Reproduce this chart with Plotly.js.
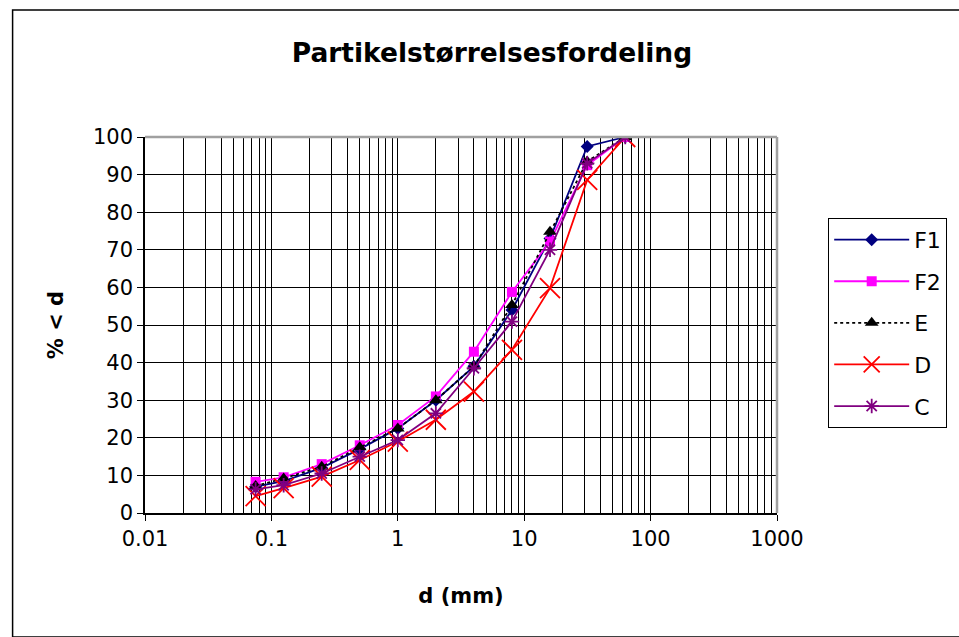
<!DOCTYPE html>
<html><head><meta charset="utf-8">
<script src="https://cdn.plot.ly/plotly-3.0.1.min.js"></script>
<style>body{margin:0;background:#fff}#chart{width:959px;height:637px}</style>
</head><body><div id="chart"></div>
<script>
const sizes = [0.075, 0.125, 0.25, 0.5, 1, 2, 4, 8, 16, 31.5, 63];
const F1 = [7, 8.5, 12, 17, 22.5, 30, 39, 54, 73, 97.5, 100];
const F2 = [8.3, 9.5, 13, 18, 23.4, 31, 42.9, 58.8, 72.2, 92.5, 100];
const E  = [7.2, 9.2, 12.3, 17.5, 22.5, 30, 39, 55.3, 74.8, 93.5, 100];
const D  = [4.5, 6.6, 9.7, 14.1, 19, 24.8, 32.3, 43.4, 59.8, 88.6, 100];
const C  = [6.3, 7.4, 10.5, 15, 19.4, 26.5, 38.5, 50.9, 70, 93, 100];
const names = ['F1', 'F2', 'E', 'D', 'C'];
const series = [F1, F2, E, D, C];
const colors = ['#000080', '#FF00FF', '#000000', '#FF0000', '#800080'];
const symbols = ['diamond', 'square', 'triangle-up', 'x-thin-open', 'asterisk-open'];
const msizes = [10, 10, 12, 20, 12];
const dashes = ['solid', 'solid', 'dot', 'solid', 'solid'];
const FONT = 'DejaVu Sans, Arial, sans-serif';

const traces = series.map((s, i) => ({
  x: sizes, y: s, name: names[i], type: 'scatter', mode: 'lines+markers',
  legendgroup: names[i],
  line: {color: colors[i], width: 1.8, dash: dashes[i]},
  marker: {symbol: symbols[i], size: msizes[i], color: colors[i], line: {color: colors[i], width: (i >= 3 ? 1.8 : 0)}}
}));

const layout = {
  width: 959, height: 637,
  margin: {l: 145, r: 182, t: 137, b: 124},
  paper_bgcolor: '#fff', plot_bgcolor: '#fff',
  font: {family: FONT, size: 21, color: '#000'},
  title: {text: '<b>Partikelstørrelsesfordeling</b>', x: 0.513, xanchor: 'center', y: 0.918, yanchor: 'middle',
          font: {size: 26.5, family: FONT, color: '#000'}},
  xaxis: {
    type: 'log', range: [-2, 3], dtick: 1,
    tickvals: [0.01, 0.1, 1, 10, 100, 1000], ticktext: ['0.01', '0.1', '1', '10', '100', '1000'],
    showgrid: true, gridcolor: '#000', gridwidth: 1,
    minor: {showgrid: true, gridcolor: '#000', gridwidth: 1, dtick: 'D1'},
    ticks: 'outside', ticklen: 6, tickcolor: '#000', tickwidth: 1,
    showline: true, linecolor: '#000', linewidth: 1.5, mirror: false,
    zeroline: false,
    title: {text: '<b>d (mm)</b>', standoff: 38, font: {size: 21}}
  },
  yaxis: {
    range: [0, 100], dtick: 10,
    showgrid: true, gridcolor: '#000', gridwidth: 1,
    ticks: 'outside', ticklen: 6, tickcolor: '#000', tickwidth: 1,
    showline: true, linecolor: '#000', linewidth: 1.5, mirror: false,
    zeroline: false,
    title: {text: '<b>% < d</b>', standoff: 24, font: {size: 21}}
  },
  legend: {
    x: 1.081, y: 0.785, xanchor: 'left', yanchor: 'top',
    bordercolor: '#000', borderwidth: 1, bgcolor: '#fff',
    font: {size: 22}, tracegroupgap: 10, traceorder: 'grouped',
    itemwidth: 75
  },
  shapes: [
    {type: 'rect', xref: 'paper', yref: 'paper', x0: -0.2095, x1: 1.3, y0: -0.33, y1: 1.3375,
     line: {color: '#000', width: 1.5}, fillcolor: 'rgba(0,0,0,0)', layer: 'below'},
    {type: 'line', xref: 'paper', yref: 'paper', x0: 0, x1: 1, y0: 1, y1: 1, line: {color: '#a0a0a0', width: 2.5}},
    {type: 'line', xref: 'paper', yref: 'paper', x0: 1, x1: 1, y0: 0, y1: 1, line: {color: '#a0a0a0', width: 2.5}}
  ]
};

Plotly.newPlot('chart', traces, layout, {displayModeBar: false});
</script>
</body></html>
